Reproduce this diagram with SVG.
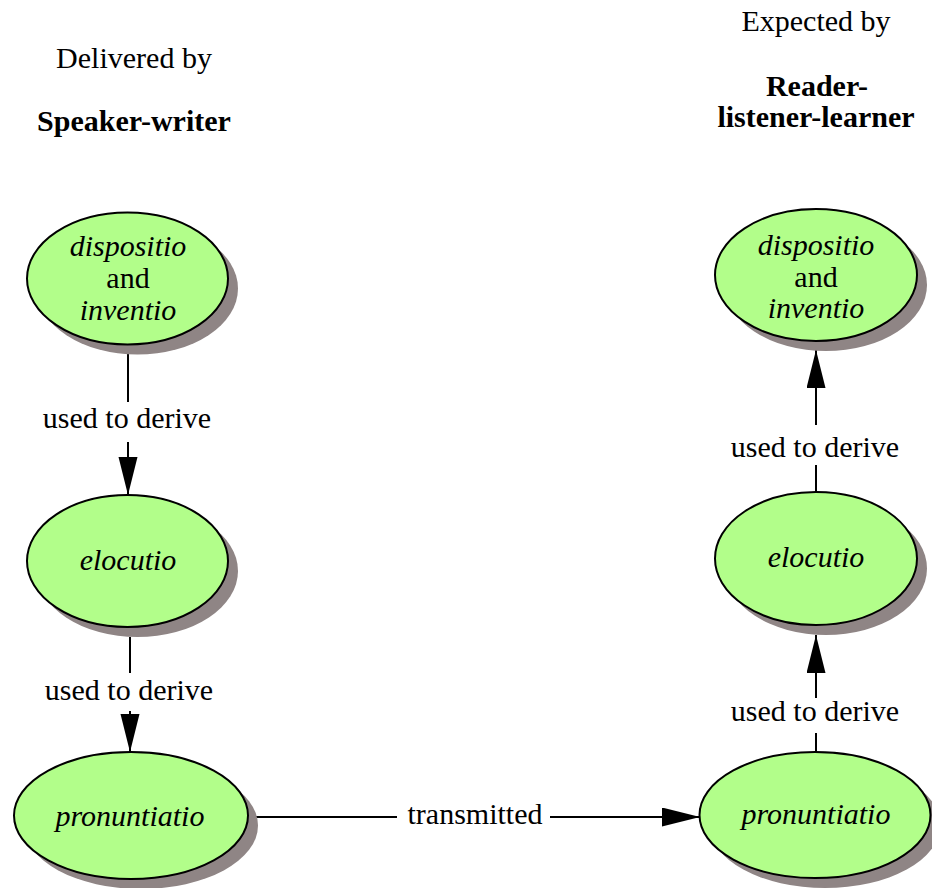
<svg xmlns="http://www.w3.org/2000/svg" width="932" height="888" viewBox="0 0 932 888">
<style>
.sh{fill:#8f8585;stroke:none}
.el{fill:#b2fe8a;stroke:#000;stroke-width:2}
text{font-family:'Liberation Serif',Tinos,'Times New Roman','DejaVu Serif',serif;font-size:30px;fill:#000;text-anchor:middle}
.it{font-style:italic}
.b{font-weight:bold}
.ln{stroke:#000;stroke-width:2;fill:none}
</style>
<defs>
<marker id="ah" markerUnits="userSpaceOnUse" markerWidth="40" markerHeight="20" refX="38" refY="9.5" orient="auto" viewBox="0 0 40 20">
<path d="M0,0 L38,9.5 L0,19 Z" fill="#000"/>
</marker>
</defs>
<rect width="932" height="888" fill="#fff"/>
<g id="headers">
<text x="134" y="68">Delivered by</text>
<text x="134" y="131" class="b">Speaker-writer</text>
<text x="816" y="31">Expected by</text>
<text x="817" y="96" class="b">Reader-</text>
<text x="816" y="127" class="b">listener-learner</text>
</g>
<g id="connectors">
<line class="ln" x1="128" y1="352" x2="128" y2="402"/>
<line class="ln" x1="128" y1="442" x2="128" y2="495" marker-end="url(#ah)"/>
<text x="127" y="428">used to derive</text>
<line class="ln" x1="130" y1="637" x2="130" y2="673"/>
<line class="ln" x1="130" y1="711" x2="130" y2="752" marker-end="url(#ah)"/>
<text x="129" y="700">used to derive</text>
<line class="ln" x1="253" y1="817" x2="397" y2="817"/>
<line class="ln" x1="550" y1="817" x2="700" y2="817" marker-end="url(#ah)"/>
<text x="475" y="824">transmitted</text>
<line class="ln" x1="816" y1="752" x2="816" y2="733"/>
<line class="ln" x1="816" y1="698" x2="816" y2="635" marker-end="url(#ah)"/>
<text x="815" y="721">used to derive</text>
<line class="ln" x1="816" y1="492" x2="816" y2="465"/>
<line class="ln" x1="816" y1="425" x2="816" y2="350" marker-end="url(#ah)"/>
<text x="815" y="457">used to derive</text>
</g>
<g id="left-dispositio">
<ellipse class="sh" cx="137.5" cy="288.5" rx="100.5" ry="66"/>
<ellipse class="el" cx="127.5" cy="278.5" rx="100.5" ry="66"/>
<text x="128" y="256" class="it">dispositio</text>
<text x="128" y="288">and</text>
<text x="128" y="320" class="it">inventio</text>
</g>
<g id="left-elocutio">
<ellipse class="sh" cx="137.5" cy="571" rx="100.5" ry="66"/>
<ellipse class="el" cx="127.5" cy="561" rx="100.5" ry="66"/>
<text x="128" y="570" class="it">elocutio</text>
</g>
<g id="left-pronuntiatio">
<ellipse class="sh" cx="141" cy="825.5" rx="117" ry="63.5"/>
<ellipse class="el" cx="131" cy="815.5" rx="117" ry="63.5"/>
<text x="130" y="826" class="it">pronuntiatio</text>
</g>
<g id="right-dispositio">
<ellipse class="sh" cx="826" cy="285" rx="101" ry="66"/>
<ellipse class="el" cx="816" cy="275" rx="101" ry="66"/>
<text x="816" y="255" class="it">dispositio</text>
<text x="816" y="287">and</text>
<text x="816" y="318" class="it">inventio</text>
</g>
<g id="right-elocutio">
<ellipse class="sh" cx="826" cy="568.5" rx="101" ry="66.5"/>
<ellipse class="el" cx="816" cy="558.5" rx="101" ry="66.5"/>
<text x="816" y="567" class="it">elocutio</text>
</g>
<g id="right-pronuntiatio">
<ellipse class="sh" cx="825" cy="825" rx="115.5" ry="63"/>
<ellipse class="el" cx="815" cy="815" rx="115.5" ry="63"/>
<text x="816" y="824" class="it">pronuntiatio</text>
</g>
</svg>
